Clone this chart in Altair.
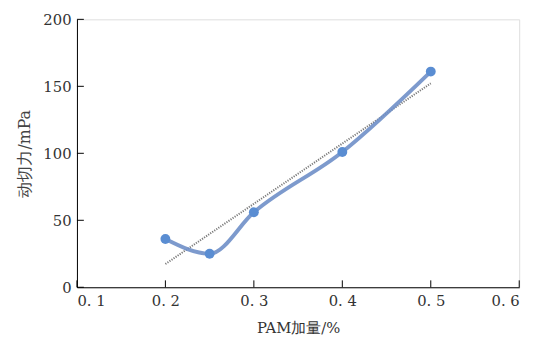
import altair as alt
import pandas as pd

pam = [0.2, 0.25, 0.3, 0.4, 0.5]
shear = [36, 25, 56, 101, 161]
x_ticks = [0.1, 0.2, 0.3, 0.4, 0.5, 0.6]
y_ticks = [0, 50, 100, 150, 200]

df = pd.DataFrame({"x": pam, "y": shear})
xt = pd.DataFrame({"x": x_ticks})
yt = pd.DataFrame({"y": y_ticks})

FONT = "DejaVu Serif"
W, H = 449, 272

xs = alt.Scale(domain=[0.1, 0.6], nice=False)
ys = alt.Scale(domain=[0, 200], nice=False)

xax = alt.Axis(values=x_ticks, title="PAM加量/%",
               labelExpr="replace(format(datum.value, '.1f'), '.', '. ')",
               grid=False, ticks=False, domainColor="black",
               labelColor="#333", titleColor="#333", labelFontSize=15, titleFontSize=15,
               labelFont=FONT, titleFont=FONT, titleFontWeight="normal",
               labelPadding=7, titlePadding=12)
yax = alt.Axis(values=y_ticks, title="动切力/mPa",
               grid=False, ticks=False, domainColor="black",
               labelColor="#333", titleColor="#444", labelFontSize=15, titleFontSize=16,
               labelFont=FONT, titleFont=FONT, titleFontWeight="normal",
               labelPadding=6, titlePadding=11)

base = alt.Chart(df)

trend = base.transform_regression("x", "y").mark_line(
    color="#7a7a7a", strokeWidth=2, strokeDash=[1.2, 1.3]
).encode(x=alt.X("x:Q", scale=xs, axis=xax), y=alt.Y("y:Q", scale=ys, axis=yax))

line = base.mark_line(color="#6f8fc8", strokeWidth=4, interpolate="monotone", opacity=0.9).encode(
    x=alt.X("x:Q", scale=xs, axis=xax), y=alt.Y("y:Q", scale=ys, axis=yax))

pts = base.mark_circle(color="#5a8dd2", size=100, opacity=1).encode(
    x=alt.X("x:Q", scale=xs, axis=xax), y=alt.Y("y:Q", scale=ys, axis=yax))

xtick = alt.Chart(xt).mark_rule(color="black", strokeWidth=1).encode(
    x=alt.X("x:Q", scale=xs, axis=xax), y=alt.value(H), y2=alt.value(H - 7))
ytick = alt.Chart(yt).mark_rule(color="black", strokeWidth=1).encode(
    y=alt.Y("y:Q", scale=ys, axis=yax), x=alt.value(0), x2=alt.value(7))

chart = alt.layer(xtick, ytick, trend, line, pts).properties(
    width=W, height=H,
    autosize=alt.AutoSizeParams(type="none"),
    padding={"left": 70, "top": 9, "right": 15, "bottom": 50},
).configure_view(stroke=None).configure(background="white", font=FONT)

chart.save("out.html", embed_options={"renderer": "svg", "actions": False})
